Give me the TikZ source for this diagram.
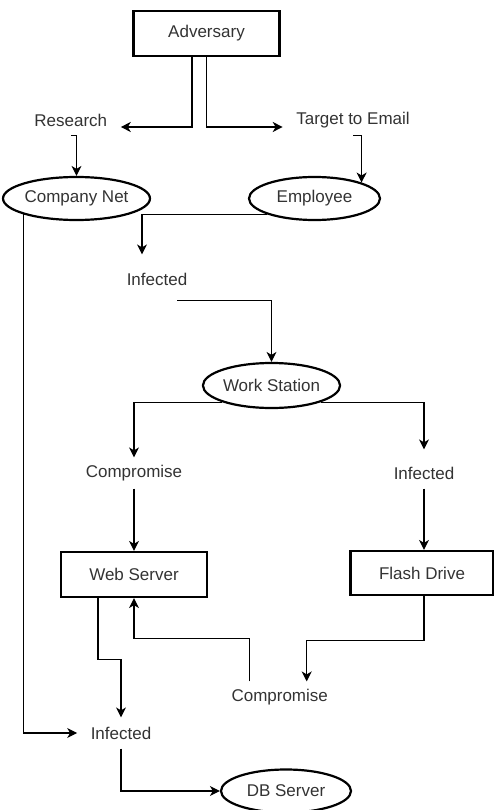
\documentclass[tikz,border=0pt]{standalone}
\usepackage{fontspec}
\setmainfont{Liberation Sans}
\usepackage{xcolor}
\usepackage{tikz}
\usetikzlibrary{
    arrows.meta,
    shapes.geometric
}
\definecolor{txtgray}{HTML}{333333}

\begin{document}
\begin{tikzpicture}[->,>={Stealth[length=10pt,width=10pt,inset=3pt]},x=1pt,y=-1pt,line width=1.2pt]
    \tikzstyle{every node}=[font=\fontsize{17}{20}\selectfont,text=txtgray]
    \tikzstyle{box}=[draw,rectangle,line width=2.2pt,minimum width=146pt,minimum height=45pt,inner sep=0pt]
    \tikzstyle{oval}=[draw,ellipse,line width=2.2pt,minimum width=131pt,minimum height=43pt,inner sep=0pt]
    \tikzstyle{lbl}=[inner xsep=13pt,inner ysep=0pt,minimum height=30pt]
    \useasboundingbox (0,0) rectangle (494,810);
    \node[box] (adv) at (206.5,33.5) {Adversary};
    \node[lbl] (res) at (70.8,120) {Research};
    \node[lbl] (tgt) at (353,120) {Target to Email};
    \node[oval] (cnet) at (76.5,198.5) {Company Net};
    \node[oval] (emp) at (314.5,198.5) {Employee};
    \node[lbl] (inf1) at (157,279) {Infected};
    \node[oval,minimum height=45pt] (ws) at (271.5,385.5) {Work Station};
    \node[lbl] (comp1) at (134,473) {Compromise};
    \node[lbl] (inf2) at (424,473) {Infected};
    \node[box] (web) at (134,574.5) {Web Server};
    \node[box,minimum width=143pt,minimum height=44pt] (flash) at (422,573) {Flash Drive};
    \node[lbl] (comp2) at (279.7,697) {Compromise};
    \node[lbl] (inf3) at (121,733) {Infected};
    \node[oval,minimum width=130pt] (db) at (286,791) {DB Server};
    \draw ([xshift=-14.5pt]adv.south) |- ([yshift=-7pt]res.east);
    \draw (adv.south) |- ([yshift=-7pt]tgt.west);
    \draw (res.south) -| (cnet.north);
    \draw (tgt.south) -| (emp.north east);
    \draw (emp.south west) -| ([xshift=-15pt,yshift=9pt]inf1.north);
    \draw ([xshift=20pt,yshift=-6pt]inf1.south) -| (ws.north);
    \draw (ws.south west) -| (comp1.north);
    \draw (ws.south east) -| ([yshift=8pt]inf2.north);
    \draw (comp1.south) -- (web.north);
    \draw (inf2.south) -- (inf2.south |- flash.north);
    \draw ([xshift=-36pt]web.south) -- ++(0,61) -| (inf3.north);
    \draw ([xshift=-30pt]comp2.north) -- ++(0,-43) -| (web.south);
    \draw (flash.south -| inf2.south) -- ++(0,44) -| ([xshift=27pt]comp2.north);
    \draw (cnet.south west) |- (inf3.west);
    \draw (inf3.south) |- (db.west);
\end{tikzpicture}
\end{document}
